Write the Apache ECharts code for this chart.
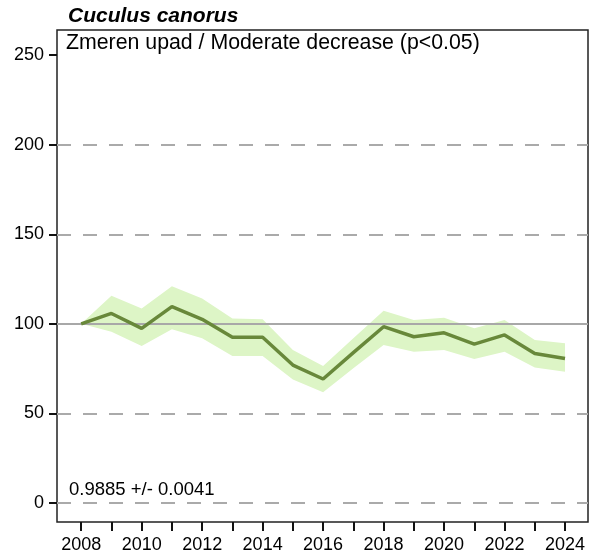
<!DOCTYPE html>
<html>
<head>
<meta charset="utf-8">
<script src="https://cdn.jsdelivr.net/npm/echarts@6/dist/echarts.min.js"></script>
<style>html,body{margin:0;padding:0;background:#fff;}#c{width:591px;height:556px;}</style>
</head>
<body>
<div id="c"></div>
<script>
const years = [2008,2009,2010,2011,2012,2013,2014,2015,2016,2017,2018,2019,2020,2021,2022,2023,2024];
const index = [100,105.8,97.5,109.6,102.5,92.5,92.5,77,69.2,83.9,98.4,92.8,95,88.7,93.8,83.5,80.7];
const upper = [100,115.7,108.6,121,114.2,103,102.5,85.4,76.5,91.9,107.3,102.1,103.4,97.5,102.1,91,89.1];
const lower = [100,95.6,87.6,97,91.9,82,82,69,61.8,75.2,88.2,84.4,85.4,80.4,84.4,75.7,73.3];
const yTicks = [0,50,100,150,200,250];
const xTickYears = years;
const xLabelYears = [2008,2010,2012,2014,2016,2018,2020,2022,2024];
const dashedLines = [0,50,150,200];
const baseline = 100;
const titleText = 'Cuculus canorus';
const subtitleText = 'Zmeren upad / Moderate decrease (p<0.05)';
const trendText = '0.9885 +/- 0.0041';

const chart = echarts.init(document.getElementById('c'), null, {renderer:'canvas'});
const font = 'Liberation Sans, Arial, sans-serif';
const bandData = years.map((y,i)=>[y, lower[i], upper[i]]);
const lineData = years.map((y,i)=>[y, index[i]]);

chart.setOption({
  animation:false,
  grid:{left:57, right:3, top:30, bottom:34, show:true, borderColor:'#222', borderWidth:1.5, backgroundColor:'transparent'},
  xAxis:{type:'value', min:2007.2, max:2024.76,
    axisLine:{show:false, onZero:false},
    splitLine:{show:false},
    axisTick:{show:true, customValues:xTickYears, length:9, lineStyle:{color:'#111', width:2}},
    axisLabel:{customValues:xLabelYears, fontSize:18, color:'#000', fontFamily:font, margin:14, formatter:v=>String(v)}
  },
  yAxis:{type:'value', min:-10.6, max:264,
    axisLine:{show:false, onZero:false},
    splitLine:{show:false},
    axisTick:{show:true, customValues:yTicks, length:8, lineStyle:{color:'#111', width:2}},
    axisLabel:{customValues:yTicks, fontSize:18, color:'#000', fontFamily:font, margin:13, formatter:v=>String(v)}
  },
  series:[
    {type:'custom', data:bandData, silent:true, z:1,
     renderItem:function(params, api){
       if (params.dataIndex !== 0) return null;
       const top = [], bot = [];
       for (let i=0;i<bandData.length;i++){
         top.push(api.coord([bandData[i][0], bandData[i][2]]));
         bot.push(api.coord([bandData[i][0], bandData[i][1]]));
       }
       return {type:'polygon', shape:{points: top.concat(bot.reverse())}, style:{fill:'#ddf5c6'}};
     },
     encode:{x:0, y:[1,2]}},
    {type:'line', data:lineData, symbol:'none', lineStyle:{color:'#68883a', width:3.5}, z:3,
     markLine:{silent:true, symbol:'none', label:{show:false}, z:2,
       data:[
         ...dashedLines.map(v=>({yAxis:v, lineStyle:{type:[14,12], color:'#aaaaaa', width:2}})),
         {yAxis:baseline, lineStyle:{type:'solid', color:'#a8a8a8', width:2}}
       ]}}
  ],
  graphic:[
    {type:'text', left:68, top:6, style:{text:titleText, font:'italic bold 21px '+font, fill:'#000'}},
    {type:'text', left:66, top:33, style:{text:subtitleText, font:'21.3px '+font, fill:'#000'}},
    {type:'text', left:69, top:480, style:{text:trendText, font:'18.5px '+font, fill:'#000'}}
  ]
});
</script>
</body>
</html>
